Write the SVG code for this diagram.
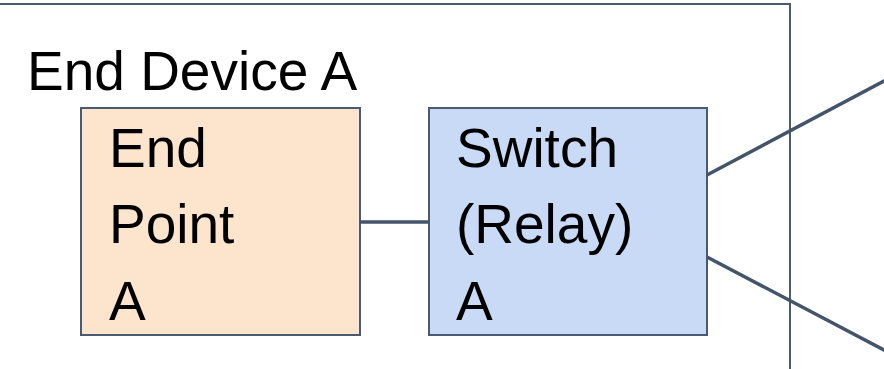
<svg xmlns="http://www.w3.org/2000/svg" width="884" height="369" viewBox="0 0 884 369">
<style>
.t{font-family:"Liberation Sans",Arial,sans-serif;font-size:55px;fill:#000}
.box{stroke:#4A5A70;stroke-width:2}
.ln{stroke:#44546A;stroke-width:3.5;fill:none}
</style>
<rect x="0" y="0" width="884" height="369" fill="#fff"/>
<g id="end-device-a">
<rect x="-10" y="4" width="800" height="400" fill="none" stroke="#4A5A70" stroke-width="2"/>
<text class="t" x="27" y="90">End Device A</text>
</g>
<g id="end-point-a">
<rect class="box" x="81" y="108" width="279" height="227" fill="#FCE4CD"/>
<text class="t" x="109" y="167">End</text>
<text class="t" x="109" y="243">Point</text>
<text class="t" x="109" y="320">A</text>
</g>
<g id="switch-a">
<rect class="box" x="429" y="108" width="278" height="227" fill="#C9DAF6"/>
<text class="t" x="456" y="167">Switch</text>
<text class="t" x="456" y="243">(Relay)</text>
<text class="t" x="456" y="320">A</text>
</g>
<g id="connectors">
<line class="ln" x1="360" y1="222" x2="429" y2="222"/>
<line class="ln" x1="707" y1="175" x2="886" y2="80"/>
<line class="ln" x1="707" y1="257" x2="886" y2="351"/>
</g>
</svg>
